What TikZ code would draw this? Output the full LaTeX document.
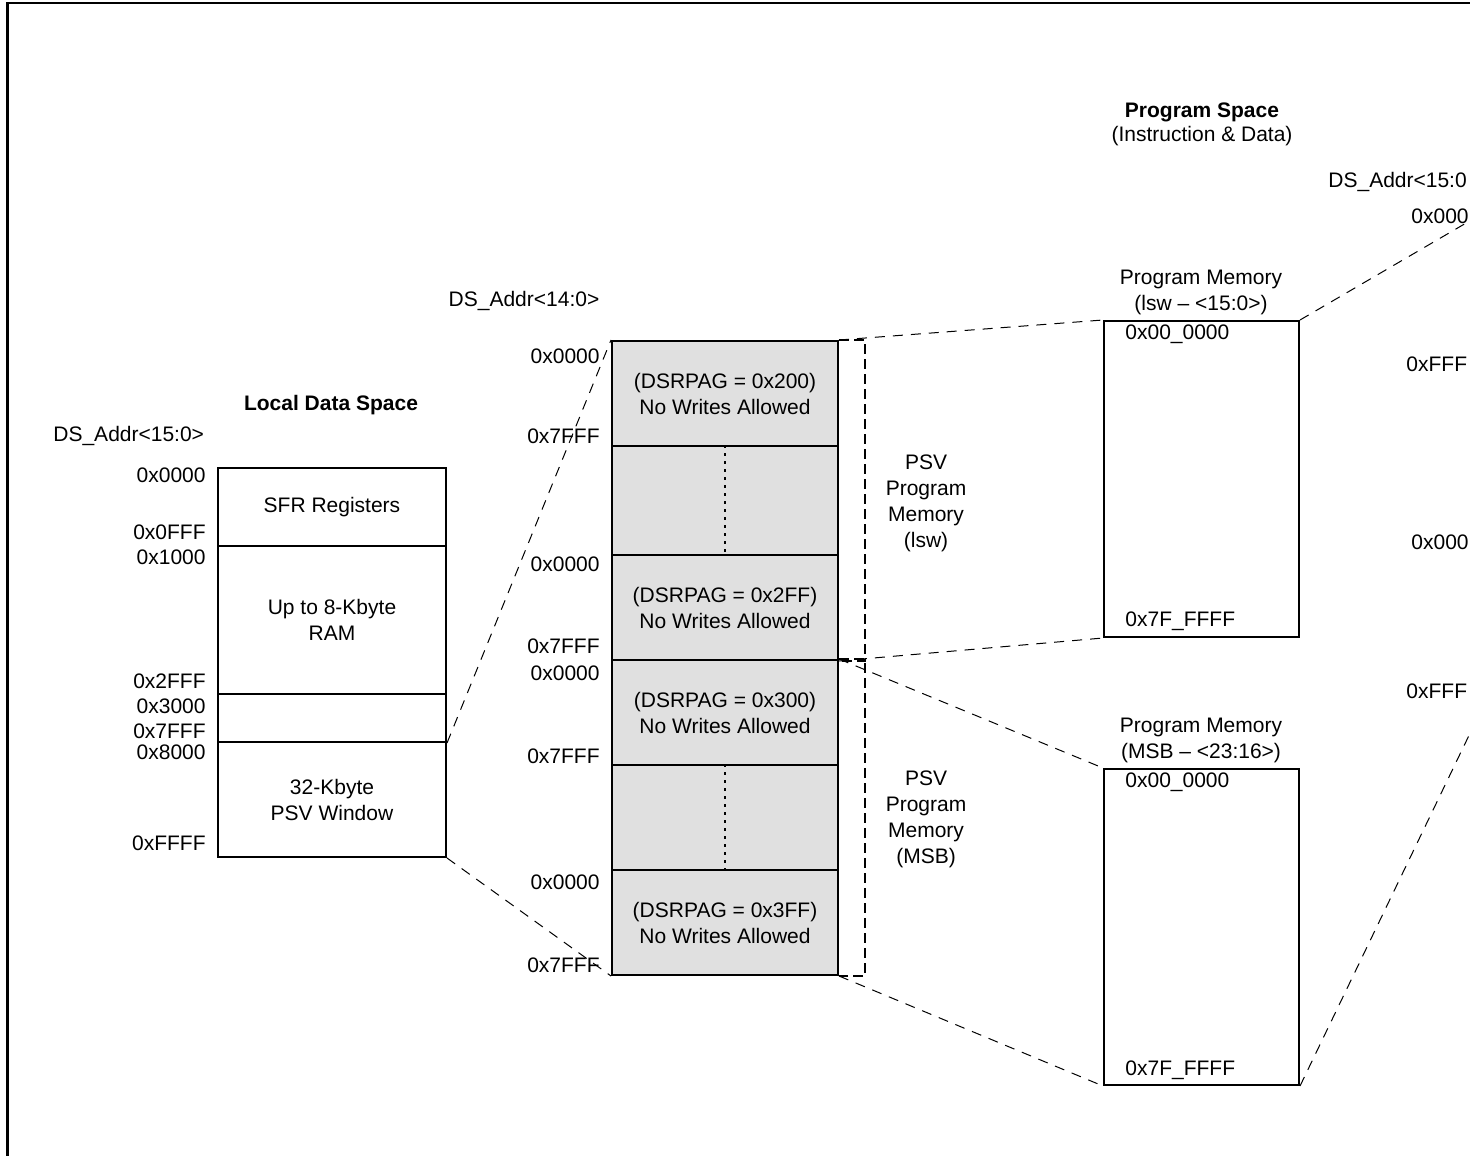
\documentclass[tikz,border=0pt]{standalone}
\usepackage{fontspec}
\setmainfont{Liberation Sans}
\usepackage{tikz}
\definecolor{pagegray}{HTML}{E0E0E0}
\tikzset{
  txt/.style={font=\fontsize{10.5}{13}\selectfont, inner sep=0pt, align=center},
  title/.style={txt, font=\fontsize{10.5}{13}\selectfont\bfseries},
  addr/.style={txt, anchor=east},
  cell/.style={txt, draw, line width=1pt, minimum width=114pt},
  page/.style={cell, fill=pagegray, minimum width=113pt},
  prog/.style={txt, draw, line width=1pt, minimum width=97.5pt, minimum height=158pt},
  link/.style={line width=0.5pt, dash pattern=on 5pt off 4pt},
  bracket/.style={line width=1pt, dash pattern=on 5pt off 2.5pt},
  dotline/.style={line width=1pt, dash pattern=on 1.5pt off 2.5pt}
}
\begin{document}
\begin{tikzpicture}[x=0.5pt, y=-0.5pt]
    \useasboundingbox (0,0) rectangle (1470,1155);
    \clip (0,0) rectangle (1470,1155);
    \draw[line width=1.2pt] (7.5,1200) |- (1500,3);

    \node[title] (ldstitle) at (331,405) {Local Data Space};
    \node[txt, anchor=west] (ldsaddr) at (53,436) {DS\_Addr<15:0>};
    \node[cell, minimum height=39pt] (sfr) at (332,507) {SFR Registers};
    \node[cell, minimum height=74pt] (ram) at (332,620) {Up to 8-Kbyte\\RAM};
    \node[cell, minimum height=24pt] (gap) at (332,718) {};
    \node[cell, minimum height=57.5pt] (psvwin) at (332,799.5) {32-Kbyte\\PSV Window};
    \foreach \y/\a [count=\i] in {475/0x0000, 532/0x0FFF, 557/0x1000, 681/0x2FFF,
        706/0x3000, 731/0x7FFF, 752/0x8000, 843/0xFFFF}
      \node[addr] (la\i) at (206,\y) {\a};

    \node[txt] (psvaddr) at (524,301) {DS\_Addr<14:0>};
    \node[page, minimum height=52.5pt] (pg1) at (725,393.5) {(DSRPAG = 0x200)\\No Writes Allowed};
    \node[page, minimum height=54.5pt] (dots1) at (725,500.5) {};
    \node[page, minimum height=52.5pt] (pg2) at (725,607.5) {(DSRPAG = 0x2FF)\\No Writes Allowed};
    \node[page, minimum height=52.5pt] (pg3) at (725,712.5) {(DSRPAG = 0x300)\\No Writes Allowed};
    \node[page, minimum height=52.5pt] (dots2) at (725,817.5) {};
    \node[page, minimum height=52.5pt] (pg4) at (725,922.5) {(DSRPAG = 0x3FF)\\No Writes Allowed};
    \draw[dotline] (dots1.north) -- (dots1.south);
    \draw[dotline] (dots2.north) -- (dots2.south);
    \foreach \y/\a [count=\i] in {356/0x0000, 436/0x7FFF, 564/0x0000, 646/0x7FFF,
        673/0x0000, 756/0x7FFF, 882/0x0000, 965/0x7FFF}
      \node[addr] (pa\i) at (600,\y) {\a};

    \draw[bracket] (pg1.north east) -- ++(13pt,0) |- (pg2.south east);
    \draw[bracket] (pg3.north east) -- ++(13pt,0) |- (pg4.south east);
    \node[txt] (psvlsw) at (926,503.5) {PSV\\Program\\Memory\\(lsw)};
    \node[txt] (psvmsb) at (926,819) {PSV\\Program\\Memory\\(MSB)};

    \node[title] (pstitle) at (1202,112) {Program Space};
    \node[txt] (pssub) at (1202,136) {(Instruction \& Data)};
    \node[txt] (lswtitle) at (1201,292) {Program Memory\\(lsw -- <15:0>)};
    \node[prog] (lsw) at (1201.5,479) {};
    \node[txt, anchor=west] (lswlo) at (1125,334) {0x00\_0000};
    \node[txt, anchor=west] (lswhi) at (1125,621) {0x7F\_FFFF};
    \node[txt] (msbtitle) at (1201,740) {Program Memory\\(MSB -- <23:16>)};
    \node[prog] (msb) at (1201.5,927) {};
    \node[txt, anchor=west] (msblo) at (1125,782) {0x00\_0000};
    \node[txt, anchor=west] (msbhi) at (1125,1070) {0x7F\_FFFF};

    \node[txt, anchor=west] (dsaddr) at (1328,182) {DS\_Addr<15:0};
    \node[txt, anchor=west] (ds0a) at (1411,216) {0x000};
    \node[txt, anchor=west] (dsFa) at (1406,364) {0xFFF};
    \node[txt, anchor=west] (ds0b) at (1411,542) {0x000};
    \node[txt, anchor=west] (dsFb) at (1406,691) {0xFFF};
    \coordinate (lswend) at (1485,212);
    \coordinate (msbend) at (1487,698);

    \draw[link] (gap.south east) -- (pg1.north west);
    \draw[link] (psvwin.south east) -- (pg4.south west);
    \draw[link] (pg1.north east) -- (lsw.north west);
    \draw[link] (pg2.south east) -- (lsw.south west);
    \draw[link] (pg3.north east) -- (msb.north west);
    \draw[link] (pg4.south east) -- (msb.south west);
    \draw[link] (lsw.north east) -- (lswend);
    \draw[link] (msb.south east) -- (msbend);
\end{tikzpicture}
\end{document}
